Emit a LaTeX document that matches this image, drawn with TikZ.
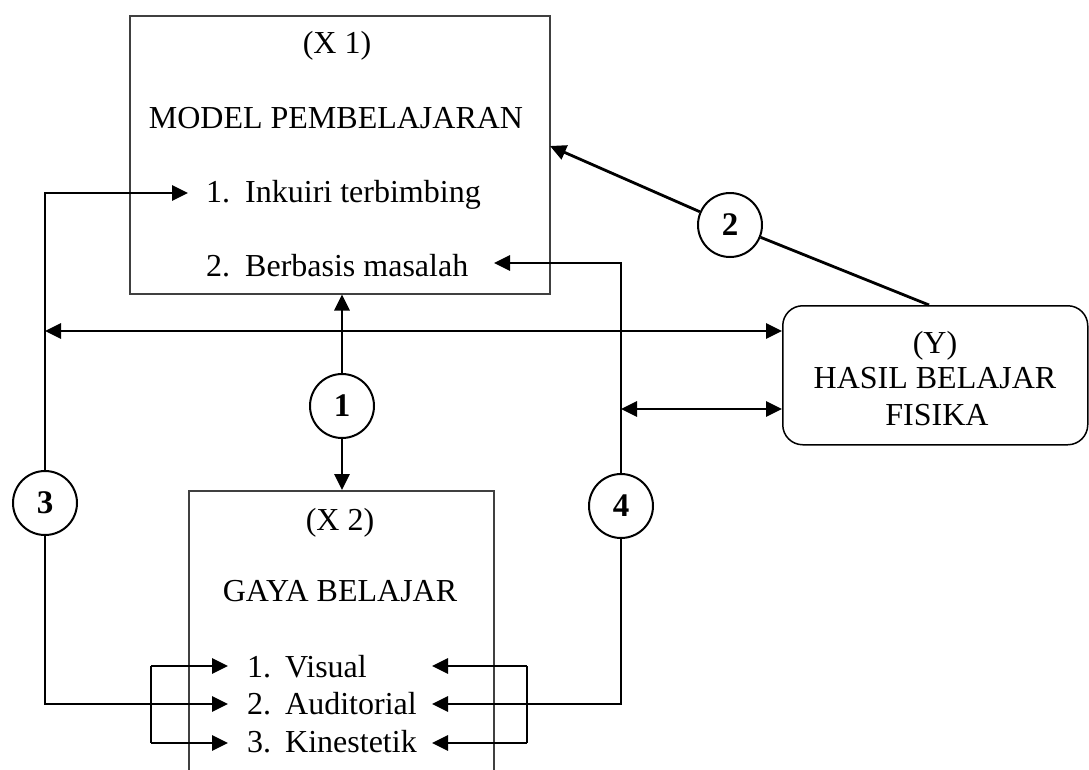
\documentclass[tikz,border=0pt]{standalone}
\usepackage{fontspec}
\setmainfont{Liberation Serif}
\usetikzlibrary{arrows.meta}
\begin{document}
\begin{tikzpicture}[x=1pt,y=-1pt,
  conn/.style={line width=2.8pt},
  tip/.style={-{Triangle[length=16pt,width=15pt]}},
  both/.style={{Triangle[length=16pt,width=15pt]}-{Triangle[length=16pt,width=15pt]}},
  frame/.style={draw=black!75, line width=1.5pt, inner sep=0pt, anchor=north west},
  num/.style={circle, draw, line width=2pt, minimum size=64pt, inner sep=0pt,
    font=\fontsize{33}{36}\selectfont\bfseries, fill=white},
  txt/.style={inner sep=0pt, font=\fontsize{32}{36}\selectfont},
]
\useasboundingbox (0,0) rectangle (1089,769);

% boxes
\node[frame, minimum width=420pt, minimum height=278pt] (x1) at (129,15) {};
\begin{scope}
  \clip (0,0) rectangle (1089,769);
  \node[frame, minimum width=305pt, minimum height=320pt] (x2) at (188,490) {};
\end{scope}
\node[frame, draw=black, rounded corners=20pt, minimum width=305pt, minimum height=139pt] (y) at (782,305) {};

% texts of X1
\node[txt, anchor=base] (x1t) at (337,53) {(X 1)};
\node[txt, anchor=base] (x1m) at (336,128) {MODEL PEMBELAJARAN};
\node[txt, anchor=base west] (a1n) at (206,202) {1.};
\node[txt, anchor=base west] (a1) at (245,202) {Inkuiri terbimbing};
\node[txt, anchor=base west] (a2n) at (206,276) {2.};
\node[txt, anchor=base west] (a2) at (245,276) {Berbasis masalah};

% texts of X2
\node[txt, anchor=base] (x2t) at (340,530) {(X 2)};
\node[txt, anchor=base] (x2m) at (340,601) {GAYA BELAJAR};
\node[txt, anchor=base west] (g1n) at (247,677) {1.};
\node[txt, anchor=base west] (g1) at (285,677) {Visual};
\node[txt, anchor=base west] (g2n) at (247,714) {2.};
\node[txt, anchor=base west] (g2) at (285,714) {Auditorial};
\node[txt, anchor=base west] (g3n) at (247,752) {3.};
\node[txt, anchor=base west] (g3) at (285,752) {Kinestetik};

% texts of Y
\node[txt, anchor=base] (yt1) at (935,353) {(Y)};
\node[txt, anchor=base] (yt2) at (935,388) {HASIL BELAJAR};
\node[txt, anchor=base] (yt3) at (937,425) {FISIKA};

% numbered circles
\node[num] (c1) at (342,406) {1};
\node[num] (c2) at (730,225) {2};
\node[num] (c3) at (45,503) {3};
\node[num] (c4) at (621,506) {4};

% connector corners and ends
\coordinate (lt) at (45,193);
\coordinate (lb) at (45,704);
\coordinate (lh) at (45,331);
\coordinate (a1e) at (188,193);
\coordinate (g2l) at (228,704);
\coordinate (rt) at (621,263);
\coordinate (rb) at (621,704);
\coordinate (rh) at (621,409);
\coordinate (a2e) at (494,263);
\coordinate (g2r) at (432,704);
\coordinate (x1e) at (550,146);
\coordinate (ytop) at (929,305);
\coordinate (bl1) at (151,666);
\coordinate (bl3) at (151,743);
\coordinate (g1l) at (228,666);
\coordinate (g3l) at (228,743);
\coordinate (br1) at (527,666);
\coordinate (br3) at (527,743);
\coordinate (g1r) at (432,666);
\coordinate (g3r) at (432,743);

% path 1
\draw[conn,tip] (c1) -- (c1 |- x1.south);
\draw[conn,tip] (c1) -- (c1 |- x2.north);
% path 2
\draw[conn,tip] (c2) -- (x1e);
\draw[conn] (c2) -- (ytop);
% path 3
\draw[conn,tip] (c3) -- (lt) -- (a1e);
\draw[conn,tip] (c3) -- (lb) -- (g2l);
\draw[conn,both] (lh) -- (lh -| y.west);
% path 4
\draw[conn,tip] (c4) -- (rt) -- (a2e);
\draw[conn,tip] (c4) -- (rb) -- (g2r);
\draw[conn,both] (rh) -- (rh -| y.west);
% brackets for the learning styles
\draw[conn] (bl1) -- (bl3);
\draw[conn,tip] (bl1) -- (g1l);
\draw[conn,tip] (bl3) -- (g3l);
\draw[conn] (br1) -- (br3);
\draw[conn,tip] (br1) -- (g1r);
\draw[conn,tip] (br3) -- (g3r);
\end{tikzpicture}
\end{document}
